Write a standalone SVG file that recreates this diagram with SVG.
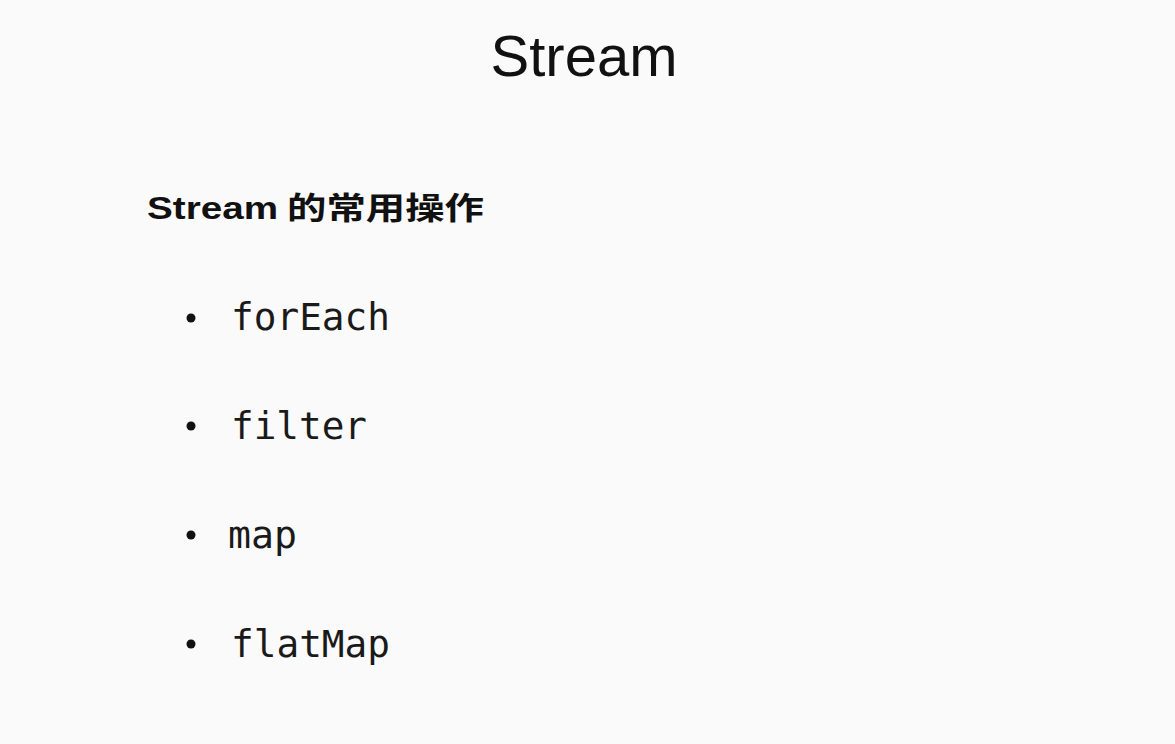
<svg xmlns="http://www.w3.org/2000/svg" width="1175" height="744" viewBox="0 0 1175 744">
<style>
.title{font-family:"Liberation Sans",Arial,sans-serif;font-size:58px;fill:#111}
.sub{font-family:"Liberation Sans","Noto Sans CJK SC",sans-serif;font-size:31px;font-weight:bold;fill:#111}
.item{font-family:"DejaVu Sans Mono","Liberation Mono",monospace;font-size:37px;fill:#1a1a1a}
.dot{fill:#111}
</style>
<rect x="0" y="0" width="1175" height="744" fill="#fafafa"/>
<g id="title"><text class="title" x="584" y="76" text-anchor="middle">Stream</text></g>
<g id="subtitle"><text class="sub" x="147" y="219"><tspan textLength="131" lengthAdjust="spacingAndGlyphs">Stream</tspan><tspan x="287" textLength="197" lengthAdjust="spacingAndGlyphs">的常用操作</tspan></text></g>
<g id="item-foreach"><circle class="dot" cx="191" cy="318" r="4.5"/><text class="item" x="231" y="330" textLength="159" lengthAdjust="spacingAndGlyphs">forEach</text></g>
<g id="item-filter"><circle class="dot" cx="191" cy="426" r="4.5"/><text class="item" x="231" y="439" textLength="136" lengthAdjust="spacingAndGlyphs">filter</text></g>
<g id="item-map"><circle class="dot" cx="191" cy="535" r="4.5"/><text class="item" x="228" y="548" textLength="69" lengthAdjust="spacingAndGlyphs">map</text></g>
<g id="item-flatmap"><circle class="dot" cx="191" cy="644" r="4.5"/><text class="item" x="231" y="657" textLength="159" lengthAdjust="spacingAndGlyphs">flatMap</text></g>
</svg>
